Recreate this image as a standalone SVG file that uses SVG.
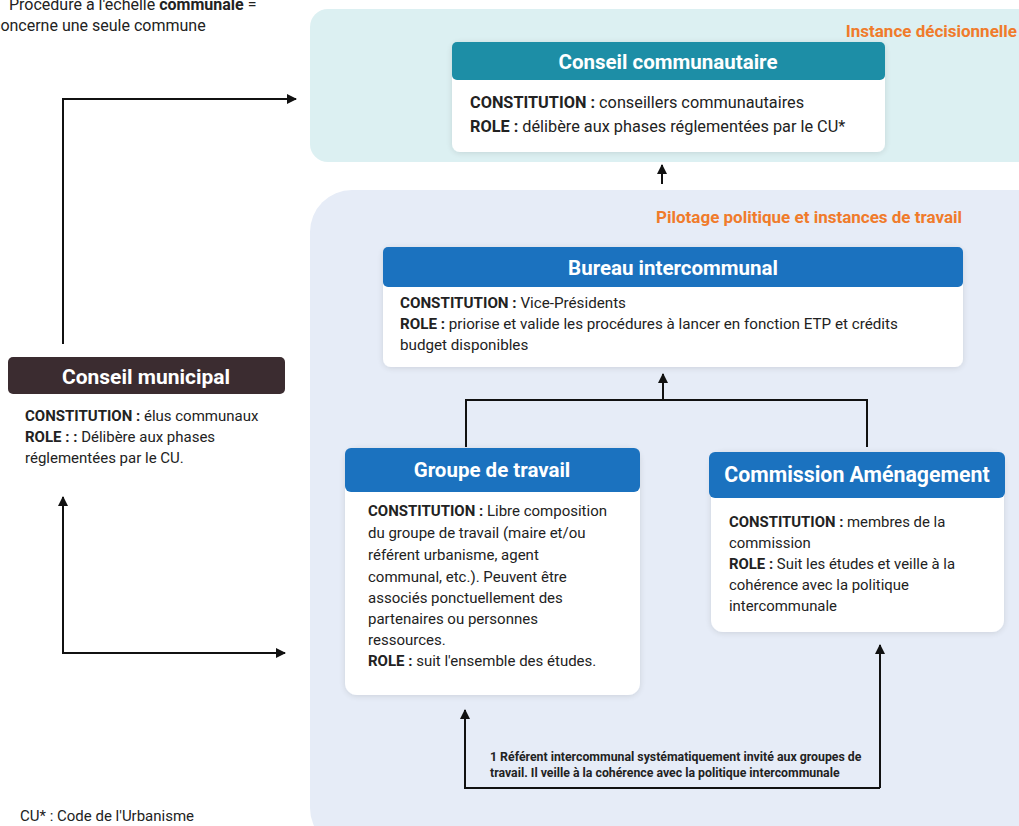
<svg xmlns="http://www.w3.org/2000/svg" width="1019" height="826" viewBox="0 0 1019 826">
<defs>
<style>
.t{font-family:Roboto,"Liberation Sans",sans-serif;fill:#222;}
.b{font-weight:bold;}
.h{font-family:Roboto,"Liberation Sans",sans-serif;font-weight:bold;fill:#fff;text-anchor:middle;}
.or{font-family:Roboto,"Liberation Sans",sans-serif;font-weight:bold;fill:#f07b2b;font-size:17px;text-anchor:end;}
.ln{fill:none;stroke:#111;stroke-width:2;}
.body{fill:#fff;}
.blue{fill:#1b72bf;}
</style>
<marker id="ah" viewBox="0 0 10 10" refX="9" refY="5" markerWidth="5" markerHeight="5" orient="auto"><path d="M0,0 L10,5 L0,10 z" fill="#111"/></marker>
<filter id="sh" x="-10%" y="-10%" width="120%" height="120%"><feGaussianBlur in="SourceAlpha" stdDeviation="3"/><feOffset dy="1"/><feComponentTransfer><feFuncA type="linear" slope="0.12"/></feComponentTransfer><feMerge><feMergeNode/><feMergeNode in="SourceGraphic"/></feMerge></filter>
</defs>
<rect width="1019" height="826" fill="#fff"/>
<!-- panels -->
<rect x="310" y="9" width="760" height="153" rx="18" fill="#dcf0f2"/>
<rect x="310" y="190" width="760" height="660" rx="42" fill="#e6ecf7"/>
<text class="or" x="1017" y="37">Instance décisionnelle</text>
<text class="or" x="962" y="223">Pilotage politique et instances de travail</text>

<!-- top-left note -->
<g id="note-top">
<text class="t" x="9" y="10" font-size="16">Procédure à l'échelle <tspan class="b">communale</tspan> =</text>
<text class="t" x="-8" y="31" font-size="16">concerne une seule commune</text>
</g>
<text class="t" x="20" y="821" font-size="15">CU* : Code de l'Urbanisme</text>

<!-- connectors -->
<g id="connectors">
<path class="ln" d="M63,344 V99 H296" marker-end="url(#ah)"/>
<path class="ln" d="M63,497 V653 H285" marker-end="url(#ah)"/>
<path class="ln" d="M63,653 V497" marker-end="url(#ah)"/>
<path class="ln" d="M662,184 V165" stroke-width="3" marker-end="url(#ah)"/>
<path class="ln" d="M466,447 V400 H867 V447"/>
<path class="ln" d="M663,400 V374" marker-end="url(#ah)"/>
<path class="ln" d="M880,788 V645" marker-end="url(#ah)"/>
<path class="ln" d="M880,788 H465 V710" marker-end="url(#ah)"/>
<text class="t b" x="490" y="761" font-size="12.3" font-weight="900">1 Référent intercommunal systématiquement invité aux groupes de</text>
<text class="t b" x="490" y="777" font-size="12.3" font-weight="900">travail. Il veille à la cohérence avec la politique intercommunale</text>
</g>

<!-- Conseil communautaire -->
<g id="conseil-communautaire">
<rect class="body" x="452" y="42" width="433" height="110" rx="8" filter="url(#sh)"/>
<rect x="452" y="42" width="433" height="38" rx="5" fill="#1d8ea6"/>
<text class="h" x="668" y="69" font-size="20.5">Conseil communautaire</text>
<text class="t" x="470" y="108" font-size="16.3"><tspan class="b">CONSTITUTION :</tspan> conseillers communautaires</text>
<text class="t" x="470" y="132" font-size="16.3"><tspan class="b">ROLE :</tspan> délibère aux phases réglementées par le CU*</text>
</g>

<!-- Bureau intercommunal -->
<g id="bureau-intercommunal">
<rect class="body" x="383" y="247" width="580" height="120" rx="8" filter="url(#sh)"/>
<rect class="blue" x="383" y="247" width="580" height="40" rx="5"/>
<text class="h" x="673" y="275" font-size="20.5">Bureau intercommunal</text>
<text class="t" x="400" y="308" font-size="15.2"><tspan class="b">CONSTITUTION :</tspan> Vice-Présidents</text>
<text class="t" x="400" y="329" font-size="15.2"><tspan class="b">ROLE :</tspan> priorise et valide les procédures à lancer en fonction ETP et crédits</text>
<text class="t" x="400" y="350" font-size="15.2">budget disponibles</text>
</g>

<!-- Conseil municipal -->
<g id="conseil-municipal">
<rect x="8" y="357" width="277" height="37" rx="5" fill="#3b2c30"/>
<text class="h" x="146" y="384" font-size="21">Conseil municipal</text>
<text class="t" x="25" y="421" font-size="15"><tspan class="b">CONSTITUTION :</tspan> élus communaux</text>
<text class="t" x="25" y="442" font-size="15"><tspan class="b">ROLE : :</tspan> Délibère aux phases</text>
<text class="t" x="25" y="463" font-size="15">réglementées par le CU.</text>
</g>

<!-- Groupe de travail -->
<g id="groupe-de-travail">
<rect class="body" x="345" y="448" width="295" height="247" rx="12" filter="url(#sh)"/>
<rect class="blue" x="345" y="448" width="295" height="44" rx="6"/>
<text class="h" x="492" y="477" font-size="20.5">Groupe de travail</text>
<g class="t" font-size="15">
<text x="368" y="516"><tspan class="b">CONSTITUTION :</tspan> Libre composition</text>
<text x="368" y="538">du groupe de travail (maire et/ou</text>
<text x="368" y="560">référent urbanisme, agent</text>
<text x="368" y="582">communal, etc.). Peuvent être</text>
<text x="368" y="603">associés ponctuellement des</text>
<text x="368" y="624">partenaires ou personnes</text>
<text x="368" y="645">ressources.</text>
<text x="368" y="666"><tspan class="b">ROLE :</tspan> suit l'ensemble des études.</text>
</g>
</g>

<!-- Commission Aménagement -->
<g id="commission-amenagement">
<rect class="body" x="711" y="452" width="293" height="180" rx="12" filter="url(#sh)"/>
<rect class="blue" x="709" y="452" width="296" height="46" rx="6"/>
<text class="h" x="857" y="482" font-size="21.3">Commission Aménagement</text>
<g class="t" font-size="14.9">
<text x="729" y="527"><tspan class="b">CONSTITUTION :</tspan> membres de la</text>
<text x="729" y="548">commission</text>
<text x="729" y="569"><tspan class="b">ROLE :</tspan> Suit les études et veille à la</text>
<text x="729" y="590">cohérence avec la politique</text>
<text x="729" y="611">intercommunale</text>
</g>
</g>
</svg>
